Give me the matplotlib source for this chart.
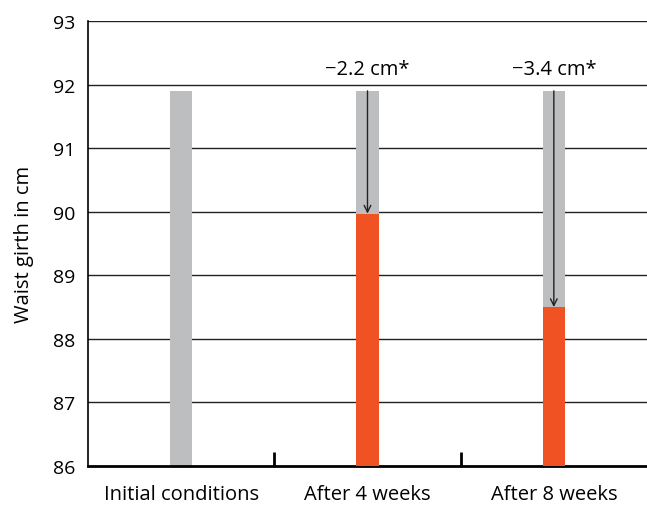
import matplotlib
matplotlib.use("Agg")
import matplotlib.pyplot as plt

categories = ["Initial conditions", "After 4 weeks", "After 8 weeks"]
initial_values = [91.9, 91.9, 91.9]
current_values = [None, 89.97, 88.5]
change_labels = [None, "\u22122.2 cm*", "\u22123.4 cm*"]
y_ticks = [86, 87, 88, 89, 90, 91, 92, 93]

plt.rcParams['font.family'] = ['Open Sans', 'DejaVu Sans']

fig = plt.figure(figsize=(6.47, 5.10), dpi=100)
ax = fig.add_axes([0.136, 0.0843, 0.864, 0.8727])

gray = "#BDBEC0"
orange = "#F15223"
width = 0.12
x = list(range(len(categories)))

ax.set_ylim(86, 93)
ax.set_xlim(-0.5, 2.5)

for yv in y_ticks[1:]:
    ax.axhline(yv, color="#222222", lw=1.0, zorder=0)

for i in x:
    ax.bar(i, initial_values[i] - 86, bottom=86, width=width, color=gray, zorder=2)
    if current_values[i] is not None:
        ax.bar(i, current_values[i] - 86, bottom=86, width=width, color=orange, zorder=3)
        ax.annotate("", xy=(i, current_values[i]), xytext=(i, initial_values[i]),
                    arrowprops=dict(arrowstyle="->", color="#222222", lw=1.0,
                                    shrinkA=0, shrinkB=0, mutation_scale=12), zorder=4)
        ax.text(i, 92.08, change_labels[i], ha="center", va="bottom", fontsize=14.5,
                family=['Open Sans', 'DejaVu Sans'])

ax.set_yticks(y_ticks)
ax.set_yticklabels([str(v) for v in y_ticks], fontsize=14)
ax.set_xticks(x)
ax.set_xticklabels(categories, fontsize=14.5)
ax.tick_params(axis='x', which='major', length=0, pad=13)
ax.tick_params(axis='y', which='major', length=0, pad=9)
ax.set_xticks([0.5, 1.5], minor=True)
ax.tick_params(axis='x', which='minor', direction='in', length=10, width=2, color='black')

ax.set_ylabel("Waist girth in cm", fontsize=14.5, labelpad=14)

for s in ["top", "right"]:
    ax.spines[s].set_visible(False)
ax.spines["left"].set_linewidth(1.2)
ax.spines["bottom"].set_linewidth(2)

fig.savefig("out.png", dpi=100)
